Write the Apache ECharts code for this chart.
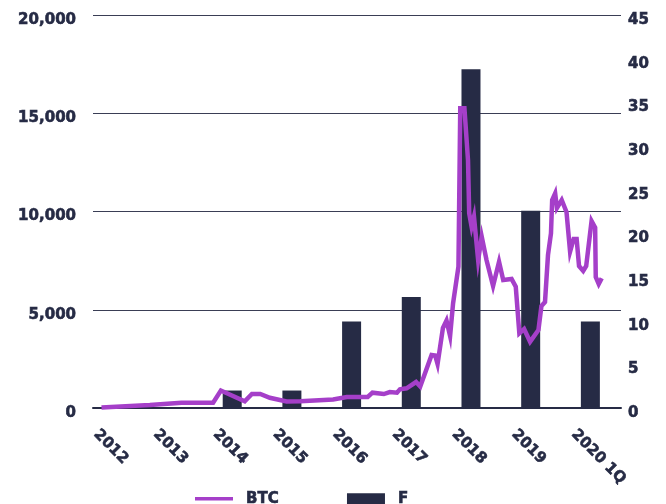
<!DOCTYPE html>
<html>
<head>
<meta charset="utf-8">
<script src="https://cdn.jsdelivr.net/npm/echarts@6/dist/echarts.min.js"></script>
<style>
  html, body { margin: 0; padding: 0; background: #ffffff; }
  #chart { width: 666px; height: 504px; }
</style>
</head>
<body>
<div id="chart"></div>
<script>
// Year slots on the horizontal axis and their labels
const years = [2012, 2013, 2014, 2015, 2016, 2017, 2018, 2019, 2020];
const yearLabels = ['2012', '2013', '2014', '2015', '2016', '2017', '2018', '2019', '2020 1Q'];

// F (right axis), one bar per year slot
const fValues = [0, 0, 2, 2, 9.9, 12.7, 38.8, 22.6, 9.9];

// BTC price (left axis, USD) sampled over time (decimal years)
const btcTime = [
  2011.81, 2012.62, 2013.15, 2013.68, 2013.81, 2014.21, 2014.33, 2014.47, 2014.63, 2014.91,
  2015.14, 2015.69, 2015.92, 2016.27, 2016.35, 2016.54, 2016.64, 2016.76, 2016.81, 2016.92,
  2017.08, 2017.15, 2017.34, 2017.40, 2017.44, 2017.53, 2017.59, 2017.65, 2017.70, 2017.79,
  2017.82, 2017.89, 2017.95, 2017.97, 2018.01, 2018.05, 2018.12, 2018.18, 2018.26, 2018.37,
  2018.47, 2018.54, 2018.68, 2018.75, 2018.81, 2018.89, 2018.99, 2019.13, 2019.18, 2019.24,
  2019.29, 2019.34, 2019.36, 2019.41, 2019.44, 2019.52, 2019.60, 2019.66, 2019.72, 2019.77,
  2019.81, 2019.88, 2019.93, 2020.02, 2020.08, 2020.09, 2020.14, 2020.19
];
const btcPrice = [
  30, 150, 270, 270, 891, 341, 712, 712, 519, 331,
  341, 433, 560, 560, 779, 712, 814, 779, 952, 1003,
  1323, 1094, 2697, 2672, 2239, 4071, 4453, 3664, 5328, 7191,
  15252, 15252, 12621, 9908, 9226, 9735, 7532, 8718, 7532, 6209,
  7445, 6514, 6565, 6173, 3801, 4020, 3374, 3969, 5191, 5394,
  7786, 8890, 10585, 10926, 10178, 10585, 9974, 7954, 8600, 8600,
  7226, 6972, 7226, 9516, 9186, 6667, 6311, 6601
];

const ink = '#262b45';
const purple = '#a53fc9';
const labelFont = 'DejaVu Sans';

// shared heavy label style
const labelText = {
  color: ink,
  fontFamily: labelFont,
  fontWeight: 'bold',
  fontSize: 15,
  textBorderColor: ink,
  textBorderWidth: 0.6
};

const chart = echarts.init(document.getElementById('chart'), null, { renderer: 'canvas' });

chart.setOption({
  animation: false,
  backgroundColor: '#ffffff',
  grid: { left: 93, right: 45, top: 15, bottom: 96, containLabel: false },
  legend: {
    left: 195,
    top: 491,
    padding: 0,
    itemWidth: 38,
    itemHeight: 11,
    itemGap: 68,
    textStyle: Object.assign({}, labelText, { padding: [0, 0, 0, 8] }),
    data: [
      { name: 'BTC', icon: 'path://M0,0h38v3.5h-38z', itemStyle: { color: purple } },
      { name: 'F', icon: 'rect', itemStyle: { color: ink } }
    ]
  },
  xAxis: {
    type: 'value',
    min: 2011.668,
    max: 2020.513,
    splitLine: { show: false },
    axisTick: { show: false },
    axisLine: { show: true, onZero: false, lineStyle: { color: ink, width: 2 } },
    axisLabel: Object.assign({}, labelText, {
      customValues: years.map(y => y - 0.28),
      formatter: v => yearLabels[years.indexOf(Math.round(v + 0.28))] || '',
      rotate: -45,
      margin: 24
    })
  },
  yAxis: [
    {
      type: 'value',
      min: 0,
      max: 20000,
      interval: 5000,
      position: 'left',
      axisLine: { show: false },
      axisTick: { show: false },
      splitLine: { show: true, lineStyle: { color: '#3a3e55', width: 1 } },
      axisLabel: Object.assign({}, labelText, {
        margin: 17,
        verticalAlign: 'top',
        lineHeight: 10,
        formatter: v => v.toLocaleString('en-US')
      })
    },
    {
      type: 'value',
      min: 0,
      max: 45,
      interval: 5,
      position: 'right',
      axisLine: { show: false },
      axisTick: { show: false },
      splitLine: { show: false },
      axisLabel: Object.assign({}, labelText, {
        margin: 7,
        verticalAlign: 'top',
        lineHeight: 10
      })
    }
  ],
  series: [
    {
      name: 'F',
      type: 'bar',
      yAxisIndex: 1,
      barWidth: 19,
      itemStyle: { color: ink },
      data: years.map((y, i) => [y, fValues[i]]),
      z: 2
    },
    {
      name: 'BTC',
      type: 'line',
      yAxisIndex: 0,
      symbol: 'none',
      smooth: false,
      lineStyle: { color: purple, width: 4.5, join: 'miter' },
      itemStyle: { color: purple },
      data: btcTime.map((t, i) => [t, btcPrice[i]]),
      z: 3
    }
  ]
});
</script>
</body>
</html>
